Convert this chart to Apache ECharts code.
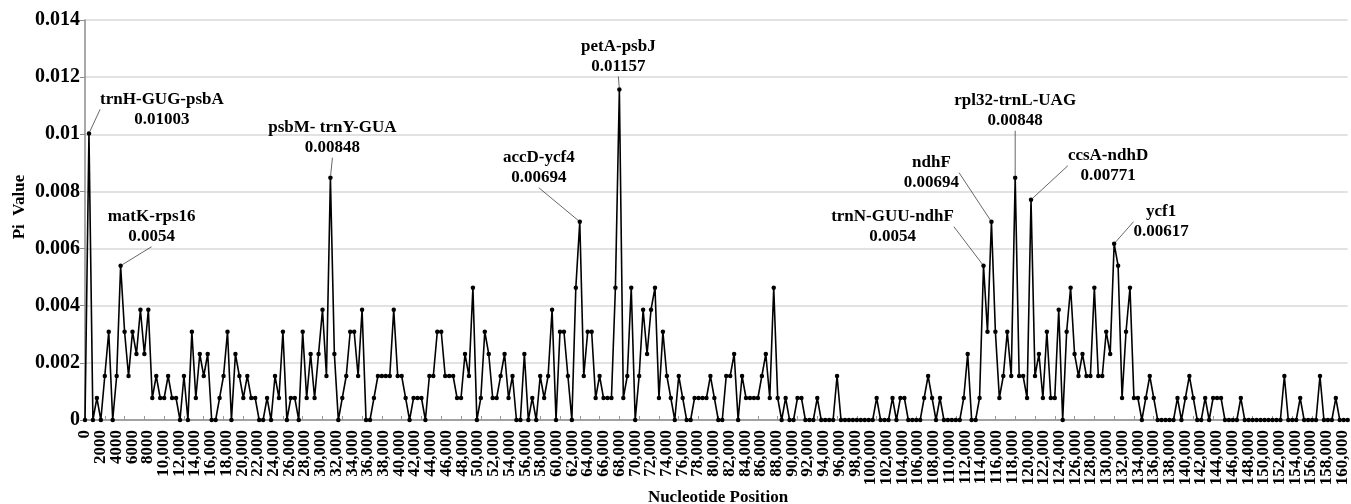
<!DOCTYPE html>
<html><head><meta charset="utf-8">
<script src="https://cdn.jsdelivr.net/npm/echarts@6/dist/echarts.min.js"></script>
<style>html,body{margin:0;padding:0;background:#fff}#c{width:1351px;height:504px}</style>
</head><body><div id="c"></div>
<script>
// Nucleotide diversity (Pi) per sliding window
const piValues = [
0,0.01003,0,0.00077,0,0.00154,0.00309,0,0.00154,0.0054,
0.00309,0.00154,0.00309,0.00231,0.00386,0.00231,0.00386,0.00077,0.00154,0.00077,
0.00077,0.00154,0.00077,0.00077,0,0.00154,0,0.00309,0.00077,0.00231,
0.00154,0.00231,0,0,0.00077,0.00154,0.00309,0,0.00231,0.00154,
0.00077,0.00154,0.00077,0.00077,0,0,0.00077,0,0.00154,0.00077,
0.00309,0,0.00077,0.00077,0,0.00309,0.00077,0.00231,0.00077,0.00231,
0.00386,0.00154,0.00848,0.00231,0,0.00077,0.00154,0.00309,0.00309,0.00154,
0.00386,0,0,0.00077,0.00154,0.00154,0.00154,0.00154,0.00386,0.00154,
0.00154,0.00077,0,0.00077,0.00077,0.00077,0,0.00154,0.00154,0.00309,
0.00309,0.00154,0.00154,0.00154,0.00077,0.00077,0.00231,0.00154,0.00463,0,
0.00077,0.00309,0.00231,0.00077,0.00077,0.00154,0.00231,0.00077,0.00154,0,
0,0.00231,0,0.00077,0,0.00154,0.00077,0.00154,0.00386,0,
0.00309,0.00309,0.00154,0,0.00463,0.00694,0.00154,0.00309,0.00309,0.00077,
0.00154,0.00077,0.00077,0.00077,0.00463,0.01157,0.00077,0.00154,0.00463,0,
0.00154,0.00386,0.00231,0.00386,0.00463,0.00077,0.00309,0.00154,0.00077,0,
0.00154,0.00077,0,0,0.00077,0.00077,0.00077,0.00077,0.00154,0.00077,
0,0,0.00154,0.00154,0.00231,0,0.00154,0.00077,0.00077,0.00077,
0.00077,0.00154,0.00231,0.00077,0.00463,0.00077,0,0.00077,0,0,
0.00077,0.00077,0,0,0,0.00077,0,0,0,0,
0.00154,0,0,0,0,0,0,0,0,0,
0.00077,0,0,0,0.00077,0,0.00077,0.00077,0,0,
0,0,0.00077,0.00154,0.00077,0,0.00077,0,0,0,
0,0,0.00077,0.00231,0,0,0.00077,0.0054,0.00309,0.00694,
0.00309,0.00077,0.00154,0.00309,0.00154,0.00848,0.00154,0.00154,0.00077,0.00771,
0.00154,0.00231,0.00077,0.00309,0.00077,0.00077,0.00386,0,0.00309,0.00463,
0.00231,0.00154,0.00231,0.00154,0.00154,0.00463,0.00154,0.00154,0.00309,0.00231,
0.00617,0.0054,0.00077,0.00309,0.00463,0.00077,0.00077,0,0.00077,0.00154,
0.00077,0,0,0,0,0,0.00077,0,0.00077,0.00154,
0.00077,0,0,0.00077,0,0.00077,0.00077,0.00077,0,0,
0,0,0.00077,0,0,0,0,0,0,0,
0,0,0,0.00154,0,0,0,0.00077,0,0,
0,0,0.00154,0,0,0,0.00077,0,0,0
];
const windowIds = piValues.map((_, i) => String(i));

// Annotated peaks (window index and region name)
const peakIndex = [1, 9, 62, 125, 135, 227, 229, 235, 239, 260];
const peakNames = ['trnH-GUG-psbA','matK-rps16','psbM- trnY-GUA','accD-ycf4','petA-psbJ',
                   'trnN-GUU-ndhF','ndhF','rpl32-trnL-UAG','ccsA-ndhD','ycf1'];

// Axis ticks
const xTickMin = 0, xTickLast = 160000, xTickStep = 2000;
const yTickMin = 0, yTickMax = 0.014, yTickStep = 0.002;

// Label placement (relative offsets of the label block centre from its point) - layout only
const peakOffset = [[73,-24],[31,-39],[2,-40],[-41,-54],[-1,-33],[-91,-39],[-60,-49],[0,-67],[77,-34],[47,-22]];

const serif = "'Liberation Serif','Times New Roman',serif";
const gridLeft = 85, gridRight = -1;
const plotW = 1351 - gridLeft - gridRight;
const lastTickPx = 1346.8;
const xValueMax = xTickLast * plotW / (lastTickPx - gridLeft);

const xLabelStyle = { rotate: 90, margin: 10, fontFamily: serif, fontWeight: 'bold', fontSize: 17, color: '#000' };

const seriesData = piValues.map((v, i) => {
  const k = peakIndex.indexOf(i);
  if (k < 0) return v;
  return {
    value: v,
    label: { show: true, formatter: peakNames[k] + '\n' + String(v) },
    labelLine: { show: true }
  };
});

const chart = echarts.init(document.getElementById('c'), null, {renderer: 'canvas'});
chart.setOption({
  animation: false,
  backgroundColor: '#fff',
  grid: { left: gridLeft, right: gridRight, top: 20, bottom: 84, containLabel: false },
  xAxis: [
    {
      type: 'value', min: xTickMin, max: xValueMax, interval: xTickStep,
      axisLine: { show: true, lineStyle: { color: '#8c8c8c', width: 1.5 } },
      axisTick: { show: false },
      splitLine: { show: false },
      axisLabel: Object.assign({}, xLabelStyle, {
        showMinLabel: false, showMaxLabel: false,
        formatter: v => (v > xTickLast || v === xTickMin ? '' : (v < 10000 ? String(v) : v.toLocaleString('en-US')))
      })
    },
    {
      type: 'category', data: windowIds, boundaryGap: false, position: 'bottom',
      axisLine: { show: false },
      axisTick: { show: true, inside: true, length: 4, interval: 4, lineStyle: { color: '#9a9a9a' } },
      // only the origin label "0" is drawn from this axis
      axisLabel: Object.assign({}, xLabelStyle, {
        show: true, interval: (idx) => idx === 0, formatter: () => String(xTickMin)
      }),
      splitLine: { show: false }
    }
  ],
  yAxis: {
    type: 'value', min: yTickMin, max: yTickMax, interval: yTickStep,
    axisLine: { show: true, lineStyle: { color: '#8c8c8c', width: 1.5 } },
    axisTick: { show: true, length: 5, lineStyle: { color: '#8c8c8c' } },
    splitLine: { show: true, lineStyle: { color: '#d9d9d9', width: 1.5 } },
    axisLabel: { fontFamily: serif, fontWeight: 'bold', fontSize: 20, color: '#000', margin: 5 }
  },
  series: [{
    type: 'line',
    xAxisIndex: 1,
    data: seriesData,
    symbol: 'circle', symbolSize: 4.5, showAllSymbol: true,
    lineStyle: { color: '#000', width: 1.6 },
    itemStyle: { color: '#000' },
    label: {
      show: false, fontFamily: serif, fontWeight: 'bold', fontSize: 17,
      lineHeight: 20, color: '#000', align: 'center'
    },
    labelLine: { show: false, lineStyle: { color: '#404040', width: 0.8 } },
    labelLayout: function (p) {
      const k = peakIndex.indexOf(p.dataIndex);
      if (k < 0) return {};
      const cx = p.rect.x + p.rect.width / 2, cy = p.rect.y + p.rect.height / 2;
      return { x: cx + peakOffset[k][0], y: cy + peakOffset[k][1], align: 'center', verticalAlign: 'middle' };
    },
    emphasis: { disabled: true }
  }],
  graphic: [
    { type: 'text', x: 20, y: 207, rotation: Math.PI / 2,
      style: { text: 'Pi  Value', font: "bold 17px 'Liberation Serif','Times New Roman',serif", fill: '#000', textAlign: 'center', textVerticalAlign: 'middle' } },
    { type: 'text', x: 718, y: 498,
      style: { text: 'Nucleotide Position', font: "bold 17px 'Liberation Serif','Times New Roman',serif", fill: '#000', textAlign: 'center', textVerticalAlign: 'middle' } }
  ]
});
</script></body></html>
